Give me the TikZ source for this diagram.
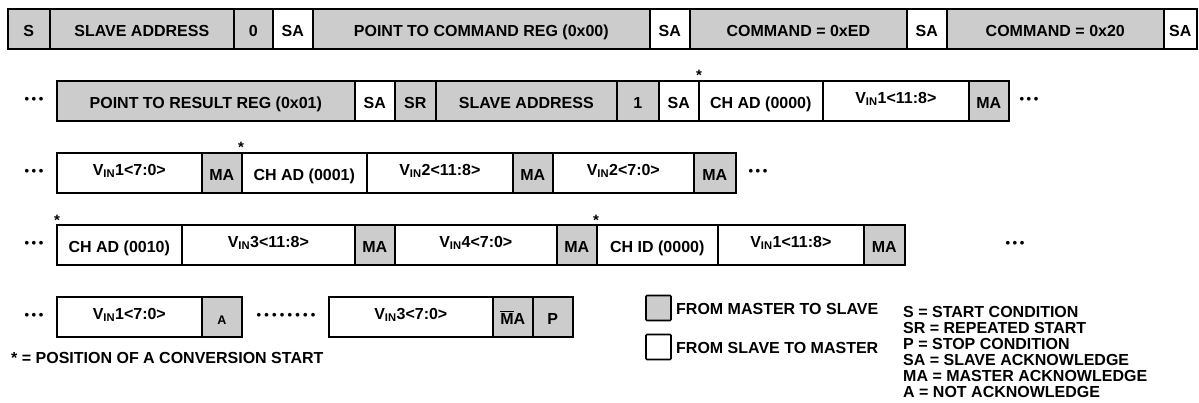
\documentclass[tikz,border=0pt]{standalone}
\usepackage{fontspec}
\setmainfont{Liberation Sans}
\definecolor{boxgray}{RGB}{204,204,204}
\tikzset{
  fld/.style={draw=black, line width=1.6pt, inner sep=0pt, anchor=north west,
    font=\bfseries\fontsize{16}{18}\selectfont, minimum height=40pt,
    text height=14.5pt, text depth=0pt},
  ms/.style={fld, fill=boxgray},
  sm/.style={fld, fill=white},
  vb/.style={sm, text height=11.5pt, text depth=7pt},
  dotsnode/.style={font=\bfseries\fontsize{13}{13}\selectfont, inner sep=0pt},
  startmark/.style={font=\bfseries\fontsize{15}{15}\selectfont, inner sep=0pt},
  legtext/.style={font=\bfseries\fontsize{16}{16}\selectfont, inner sep=0pt},
  legsq/.style={draw=black, line width=1.6pt, minimum size=25pt, inner sep=0pt, rounded corners=1pt},
}
\newcommand\fb[6]{\node[#5, minimum width={#3-#2}] (#1) at (#2,#4) {#6};}
\newcommand\vin[1]{V\textsubscript{IN}#1}
\newcommand\threedots{•\kern2.6pt•\kern2.6pt•}
\begin{document}
\begin{tikzpicture}[x=1pt,y=-1pt]
\useasboundingbox (0,0) rectangle (1199,402);
% Row 1
\fb{s}{7}{49}{8}{ms}{S}
\fb{addr1}{49}{233}{8}{ms}{SLAVE ADDRESS}
\fb{w0}{233}{272}{8}{ms}{0}
\fb{sa1}{272}{312}{8}{sm}{SA}
\fb{ptcmd}{312}{649}{8}{ms}{POINT TO COMMAND REG (0x00)}
\fb{sa2}{649}{689}{8}{sm}{SA}
\fb{cmd1}{689}{906}{8}{ms}{COMMAND = 0xED}
\fb{sa3}{906}{946}{8}{sm}{SA}
\fb{cmd2}{946}{1163}{8}{ms}{COMMAND = 0x20}
\fb{sa4}{1163}{1196}{8}{sm}{SA}
% Row 2
\node[dotsnode] (d2a) at (34,100) {\threedots};
\fb{ptres}{56}{354}{80}{ms}{POINT TO RESULT REG (0x01)}
\fb{sa5}{354}{394}{80}{sm}{SA}
\fb{sr}{394}{435}{80}{ms}{SR}
\fb{addr2}{435}{616}{80}{ms}{SLAVE ADDRESS}
\fb{r1}{616}{658}{80}{ms}{1}
\fb{sa6}{658}{698}{80}{sm}{SA}
\fb{chad0}{698}{822}{80}{sm}{CH AD (0000)}
\fb{v1h}{822}{968}{80}{vb}{\vin{1}<11:8>}
\fb{ma1}{968}{1008}{80}{ms}{MA}
\node[dotsnode] (d2b) at (1029,100) {\threedots};
\node[startmark] (st1) at (699,75) {*};
% Row 3
\node[dotsnode] (d3a) at (34,172) {\threedots};
\fb{v1l}{56}{201}{152}{vb}{\vin{1}<7:0>}
\fb{ma2}{201}{241}{152}{ms}{MA}
\fb{chad1}{241}{366}{152}{sm}{CH AD (0001)}
\fb{v2h}{366}{512}{152}{vb}{\vin{2}<11:8>}
\fb{ma3}{512}{552}{152}{ms}{MA}
\fb{v2l}{552}{693}{152}{vb}{\vin{2}<7:0>}
\fb{ma4}{693}{735}{152}{ms}{MA}
\node[dotsnode] (d3b) at (758,172) {\threedots};
\node[startmark] (st2) at (241,147) {*};
% Row 4
\node[dotsnode] (d4a) at (34,244) {\threedots};
\fb{chad2}{56}{181}{224}{sm}{CH AD (0010)}
\fb{v3h}{181}{354}{224}{vb}{\vin{3}<11:8>}
\fb{ma5}{354}{394}{224}{ms}{MA}
\fb{v4l}{394}{556}{224}{vb}{\vin{4}<7:0>}
\fb{ma6}{556}{596}{224}{ms}{MA}
\fb{chid}{596}{717}{224}{sm}{CH ID (0000)}
\fb{v1h2}{717}{863}{224}{vb}{\vin{1}<11:8>}
\fb{ma7}{863}{904}{224}{ms}{MA}
\node[dotsnode] (d4b) at (1015,244) {\threedots};
\node[startmark] (st3) at (57,220) {*};
\node[startmark] (st4) at (596,220) {*};
% Row 5
\node[dotsnode] (d5a) at (34,316) {\threedots};
\fb{v1l2}{56}{201}{296}{vb}{\vin{1}<7:0>}
\fb{na}{201}{241}{296}{ms}{\fontsize{12.5}{12.5}\selectfont A}
\node[dotsnode] (d5b) at (286,316) {•\kern3.2pt•\kern3.2pt•\kern3.2pt•\kern3.2pt•\kern3.2pt•\kern3.2pt•\kern3.2pt•};
\fb{v3l}{328}{492}{296}{vb}{\vin{3}<7:0>}
\fb{nma}{492}{532}{296}{ms}{$\overline{\mbox{M}}$A}
\fb{p}{532}{572}{296}{ms}{P}
% Footnote
\node[legtext, anchor=west] (foot) at (11,358) {* = POSITION OF A CONVERSION START};
% Legend
\node[legsq, fill=boxgray] (lgm) at (658.5,308) {};
\node[legtext, anchor=west] (lgmt) at (676,309) {FROM MASTER TO SLAVE};
\node[legsq, fill=white] (lgs) at (658.5,347) {};
\node[legtext, anchor=west] (lgst) at (676,348) {FROM SLAVE TO MASTER};
\node[legtext, anchor=north west, align=left] (abbr) at (903,306) {S = START CONDITION\\SR = REPEATED START\\P = STOP CONDITION\\SA = SLAVE ACKNOWLEDGE\\MA = MASTER ACKNOWLEDGE\\A = NOT ACKNOWLEDGE};
\end{tikzpicture}
\end{document}
